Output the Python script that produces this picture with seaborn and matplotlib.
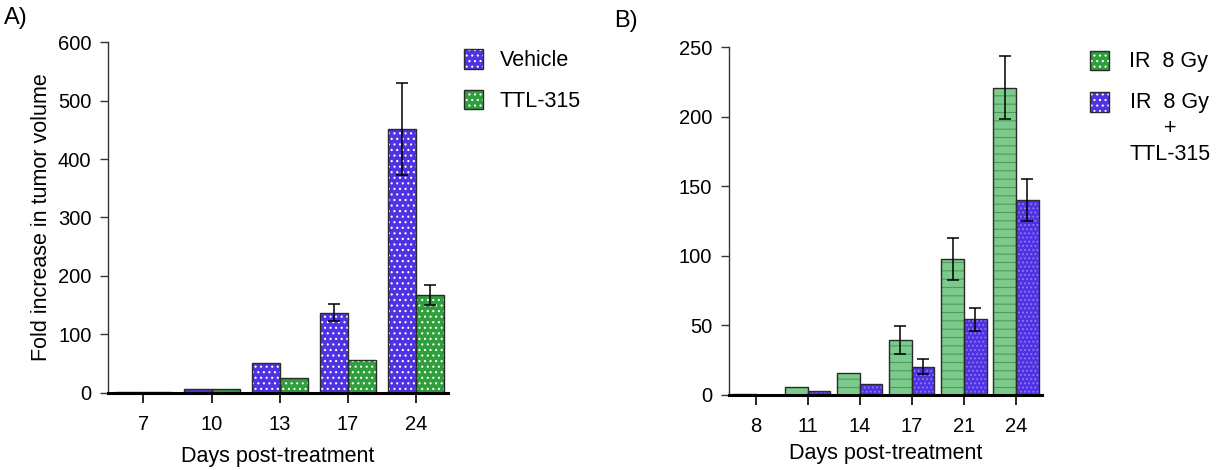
import numpy as np
import pandas as pd
import matplotlib
matplotlib.use("Agg")
import matplotlib.pyplot as plt
from matplotlib.patches import Patch, Rectangle
from matplotlib.legend_handler import HandlerTuple
import seaborn as sns

# ---------------- data ----------------
days_a = ["7", "10", "13", "17", "24"]
vehicle = [1, 7, 50, 137, 451]
vehicle_err = [0, 0, 0, 15, 79]
ttl315 = [1, 7, 26, 56, 167]
ttl315_err = [0, 0, 0, 0, 17]

days_b = ["8", "11", "14", "17", "21", "24"]
ir8 = [0.5, 5.5, 15.6, 39.3, 97.8, 221]
ir8_err = [0, 0, 0, 10, 15, 22.5]
ir8_ttl = [0.3, 2.9, 7.9, 20.4, 54.4, 140]
ir8_ttl_err = [0, 0, 0, 5.5, 8.5, 15]

labels_a = ["Vehicle", "TTL-315"]
labels_b = ["IR  8 Gy", "IR  8 Gy\n+\nTTL-315"]

BLUE = "#4f33e3"
GREEN_DARK = "#2f9e3c"
GREEN_LIGHT = "#7dcb8c"

plt.rcParams["font.family"] = ["Liberation Sans", "DejaVu Sans"]
plt.rcParams["hatch.linewidth"] = 0.8
plt.rcParams["patch.force_edgecolor"] = False

fig = plt.figure(figsize=(12.25, 4.7), dpi=100)
ax_a = fig.add_axes([0.0882, 0.1645, 0.2776, 0.7455])
ax_b = fig.add_axes([0.5951, 0.1596, 0.2555, 0.7398])

TICK_FS = 14.5
LABEL_FS = 15.5


def style_bars(ax, fills, hatches, hatch_cols):
    for cont, fc, h, hc in zip(ax.containers, fills, hatches, hatch_cols):
        for p in cont:
            p.set_facecolor(fc)
            p.set_edgecolor(hc)
            p.set_linewidth(0)
            p.set_hatch(h)
            outline = Rectangle(p.get_xy(), p.get_width(), p.get_height(),
                                fill=False, edgecolor="#2a2a2a", linewidth=1.0,
                                zorder=p.get_zorder() + 0.1)
            ax.add_patch(outline)


def add_errors(ax, errs):
    for cont, err in zip(ax.containers, errs):
        xs, ys, es = [], [], []
        for p, e in zip(cont, err):
            if e > 0:
                xs.append(p.get_x() + p.get_width() / 2)
                ys.append(p.get_height())
                es.append(e)
        ax.errorbar(xs, ys, yerr=es, fmt="none", ecolor="black",
                    elinewidth=1.1, capsize=4.5, capthick=1.1, zorder=5)


def style_axes(ax, ymax, yticks):
    ax.set_ylim(0, ymax)
    ax.set_yticks(yticks)
    for s in ["top", "right"]:
        ax.spines[s].set_visible(False)
    ax.spines["left"].set_color("#333333")
    ax.spines["left"].set_linewidth(1.0)
    ax.spines["bottom"].set_color("black")
    ax.spines["bottom"].set_linewidth(2.2)
    ax.spines["bottom"].set_zorder(6)
    ax.tick_params(axis="y", direction="out", length=6, width=1, color="#333333",
                   labelsize=TICK_FS, pad=6)
    ax.tick_params(axis="x", direction="out", length=7, width=1.2, color="black",
                   labelsize=TICK_FS, pad=9)


def legend_tuple_handles(colors):
    return [(Patch(facecolor=c, edgecolor="white", linewidth=0, hatch="..."),
             Patch(facecolor="none", edgecolor="#2a2a2a", linewidth=1.0))
            for c in colors]


# ---------------- panel A ----------------
df_a = pd.DataFrame({
    "day": days_a * 2,
    "value": vehicle + ttl315,
    "group": [labels_a[0]] * len(days_a) + [labels_a[1]] * len(days_a),
})
sns.barplot(data=df_a, x="day", y="value", hue="group", order=days_a,
            hue_order=labels_a, palette=[BLUE, GREEN_DARK], width=0.82,
            errorbar=None, legend=False, ax=ax_a)
style_bars(ax_a, [BLUE, GREEN_DARK], ["...", "..."], ["white", "white"])
add_errors(ax_a, [vehicle_err, ttl315_err])
style_axes(ax_a, 600, [0, 100, 200, 300, 400, 500, 600])
ax_a.set_xlim(-0.52, 4.47)
ax_a.set_ylabel("Fold increase in tumor volume", fontsize=LABEL_FS, labelpad=4)
ax_a.set_xlabel("Days post-treatment", fontsize=LABEL_FS, labelpad=9)

leg_a = ax_a.legend(legend_tuple_handles([BLUE, GREEN_DARK]), labels_a,
                    handler_map={tuple: HandlerTuple(ndivide=1, pad=0)},
                    loc="upper left", bbox_to_anchor=(0.99, 1.035), frameon=False,
                    fontsize=LABEL_FS, handlelength=0.9, handleheight=1.0,
                    handletextpad=0.75, labelspacing=0.85)

# ---------------- panel B ----------------
df_b = pd.DataFrame({
    "day": days_b * 2,
    "value": ir8 + ir8_ttl,
    "group": ["IR"] * len(days_b) + ["IRTTL"] * len(days_b),
})
sns.barplot(data=df_b, x="day", y="value", hue="group", order=days_b,
            hue_order=["IR", "IRTTL"], palette=[GREEN_LIGHT, BLUE], width=0.87,
            errorbar=None, legend=False, ax=ax_b)
style_bars(ax_b, [GREEN_LIGHT, BLUE], ["--", "...."], ["#4f9a5c", "#8f7cf0"])
add_errors(ax_b, [ir8_err, ir8_ttl_err])
style_axes(ax_b, 250, [0, 50, 100, 150, 200, 250])
ax_b.set_xlim(-0.51, 5.5)
ax_b.set_ylabel("")
ax_b.set_xlabel("Days post-treatment", fontsize=LABEL_FS, labelpad=5)

leg_b = ax_b.legend(legend_tuple_handles([GREEN_DARK, BLUE]), labels_b,
                    handler_map={tuple: HandlerTuple(ndivide=1, pad=0)},
                    loc="upper left", bbox_to_anchor=(1.09, 1.045), frameon=False,
                    fontsize=LABEL_FS, handlelength=0.9, handleheight=1.0,
                    handletextpad=0.95, labelspacing=0.95)
for t in leg_b.get_texts():
    t.set_multialignment("center")
    t.set_linespacing(1.3)
for col in leg_b._legend_handle_box.get_children():
    for item in col.get_children():
        item.align = "top"

fig.text(0.003, 0.962, "A)", fontsize=17, va="center", ha="left")
fig.text(0.501, 0.955, "B)", fontsize=17, va="center", ha="left")

fig.savefig("out.png", dpi=100)
